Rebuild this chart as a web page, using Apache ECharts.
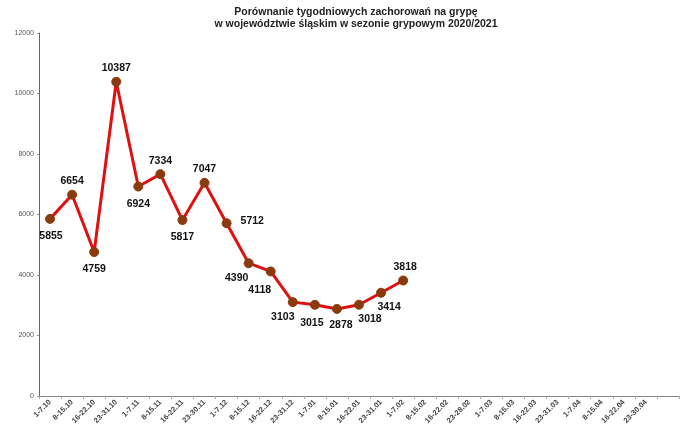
<!DOCTYPE html>
<html><head><meta charset="utf-8">
<script src="https://cdn.jsdelivr.net/npm/echarts@6/dist/echarts.min.js"></script>
<style>html,body{margin:0;padding:0;background:#fff}#c{width:680px;height:438px}</style>
</head><body><div id="c"></div>
<script>
const categories = ['1-7.10','8-15.10','16-22.10','23-31.10','1-7.11','8-15.11','16-22.11','23-30.11','1-7.12','8-15.12','16-22.12','23-31.12','1-7.01','8-15.01','16-22.01','23-31.01','1-7.02','8-15.02','16-22.02','23-28.02','1-7.03','8-15.03','16-22.03','23-31.03','1-7.04','8-15.04','16-22.04','23-30.04',''];
const cases = [5855,6654,4759,10387,6924,7334,5817,7047,5712,4390,4118,3103,3015,2878,3018,3414,3818];
const yTicks = {min:0, max:12000, interval:2000};
// label placement style, separate from data
const labelPos = ['bottom','top','bottom','top','bottom','top','bottom','top','right','bottom','bottom','bottom','bottom','bottom','bottom','bottom','top'];
const labelOff = [[1,2],[0,2],[0,2],[0,2],[0,2],[0,2],[0,2],[0,2],[4,-2],[-12,-1],[-11,3],[-10,-1],[-3,3],[4,1],[11,-1],[8,-1],[2,2]];

const data = cases.map((v,i)=>({value:v,label:{position:labelPos[i],offset:labelOff[i]}}));
const chart = echarts.init(document.getElementById('c'),null,{renderer:'canvas'});
chart.setOption({
  animation:false,
  title:{
    text:'Porównanie tygodniowych zachorowań na grypę\nw województwie śląskim w sezonie grypowym 2020/2021',
    left:351, textAlign:'center', top:1,
    textStyle:{fontFamily:'Liberation Sans, Arial, sans-serif',fontSize:10.5,fontWeight:'bold',color:'#222',lineHeight:12}
  },
  grid:{left:39,right:1,top:33,bottom:42,containLabel:false},
  xAxis:{
    type:'category', data:categories, boundaryGap:true,
    axisLine:{lineStyle:{color:'#888',width:1}},
    axisTick:{show:true,length:3,lineStyle:{color:'#aaa'}},
    axisLabel:{rotate:45,interval:0,fontSize:7.5,fontWeight:'bold',color:'#444',margin:5,fontFamily:'Liberation Sans, Arial, sans-serif'}
  },
  yAxis:{
    type:'value', min:yTicks.min, max:yTicks.max, interval:yTicks.interval,
    splitLine:{show:false},
    axisLine:{show:true,lineStyle:{color:'#666',width:1}},
    axisTick:{show:true,length:2,lineStyle:{color:'#999'}},
    axisLabel:{fontSize:7,color:'#555',margin:5,fontFamily:'Liberation Sans, Arial, sans-serif',formatter:v=>String(v)}
  },
  series:[{
    type:'line', data:data,
    lineStyle:{color:'#e01010',width:3},
    itemStyle:{color:'#8a3a0c',borderColor:'#8a3a0c'},
    symbol:'circle', symbolSize:9,
    label:{show:true,fontSize:10.5,fontWeight:'bold',color:'#111',distance:5,fontFamily:'Liberation Sans, Arial, sans-serif'}
  }]
});
</script></body></html>
